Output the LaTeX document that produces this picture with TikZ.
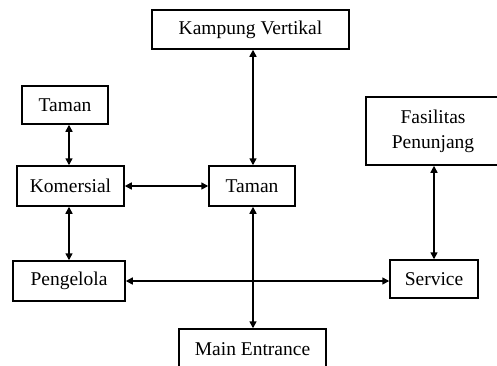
\documentclass[tikz,border=0pt]{standalone}
\usepackage{fontspec}
\setmainfont{Liberation Serif}
\usetikzlibrary{arrows.meta}
\begin{document}
\begin{tikzpicture}[x=1pt,y=-1pt,
  box/.style={draw,line width=1.5pt,rectangle,inner sep=0pt,align=center,
    font=\fontsize{19.5}{25}\selectfont},
  link/.style={line width=1.5pt,{Triangle[length=7pt,width=7pt]}-{Triangle[length=7pt,width=7pt]}}]
\useasboundingbox (0,0) rectangle (497,365);
\node[box,minimum width=197,minimum height=39] (kv) at (250.5,29.5) {Kampung Vertikal};
\node[box,minimum width=86,minimum height=38] (tl) at (65,105) {Taman};
\node[box,minimum width=134,minimum height=68] (fp) at (433,131) {Fasilitas\\Penunjang};
\node[box,minimum width=107,minimum height=40] (ko) at (70.5,186) {Komersial};
\node[box,minimum width=86,minimum height=40] (tc) at (252,186) {Taman};
\node[box,minimum width=112,minimum height=40] (pe) at (69,281) {Pengelola};
\node[box,minimum width=88,minimum height=38] (se) at (434,279) {Service};
\node[box,minimum width=147,minimum height=40] (me) at (252.5,349) {Main Entrance};
\draw[link] (kv.south -| tc.north) ++(1,0) coordinate (a1) -- (a1 |- tc.north);
\draw[link] (tl.south -| 69,0) coordinate (a2) -- (a2 |- ko.north);
\draw[link] (ko.east) -- (tc.west);
\draw[link] (ko.south -| 69,0) coordinate (a3) -- (a3 |- pe.north);
\draw[link] (tc.south -| a1) coordinate (a4) -- (a4 |- me.north);
\draw[link] (pe.east) -- (se.west |- pe.east);
\draw[link] (fp.south -| se.north) coordinate (a5) -- (se.north);
\end{tikzpicture}
\end{document}
